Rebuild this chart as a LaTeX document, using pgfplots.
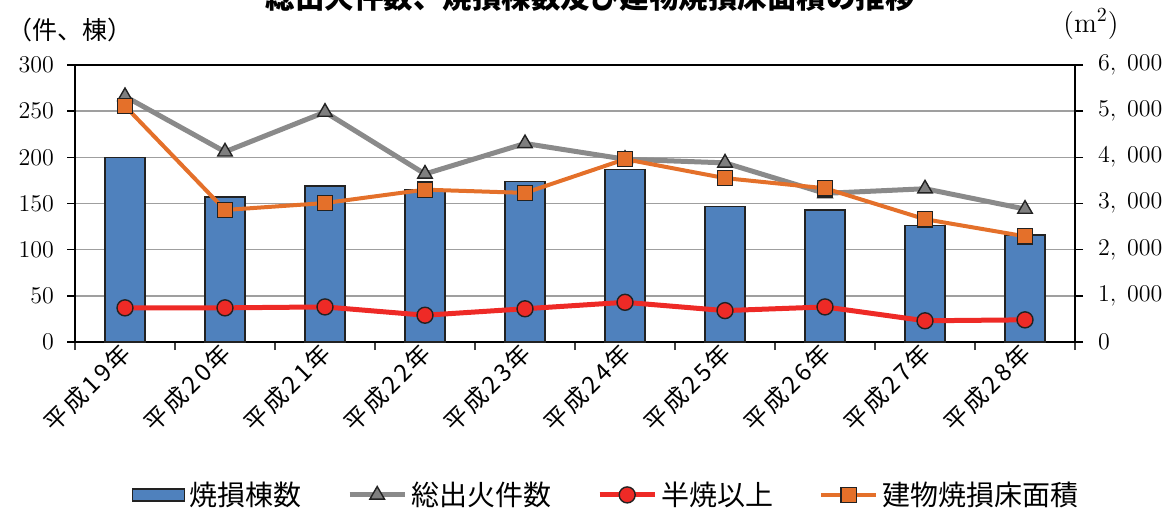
\documentclass[border=0pt]{standalone}
\usepackage{pgfplots}
\pgfplotsset{compat=1.18}
\usepackage{fontspec}
\newfontfamily\cjk{Noto Sans CJK JP}
\newfontfamily\cjkx[LetterSpace=12]{Noto Sans CJK JP}
\definecolor{barblue}{HTML}{4F81BD}
\definecolor{lgray}{HTML}{8A8A8A}
\definecolor{mgray}{HTML}{7F7F7F}
\definecolor{lred}{HTML}{EE2A26}
\definecolor{lorange}{HTML}{E4702A}
\definecolor{edge}{HTML}{222222}
\pgfplotsset{
  lineleg/.style={legend image code/.code={
    \draw[mark repeat=2,mark phase=2,##1] plot coordinates {(0pt,0pt)(13.75pt,0pt)(27.5pt,0pt)};}},
  barleg/.style={legend image code/.code={\draw[##1] (0pt,-3pt) rectangle (26pt,3pt);}}
}
\begin{document}
\begin{tikzpicture}
\begin{axis}[
  scale only axis, width=500pt, height=138.5pt,
  at={(37.5pt,84pt)}, anchor=south west,
  xmin=-0.5, xmax=9.5, ymin=0, ymax=300,
  ytick={0,50,...,300},
  xtick={0,...,9},
  xticklabels={平成19年,平成20年,平成21年,平成22年,平成23年,平成24年,平成25年,平成26年,平成27年,平成28年},
  minor xtick={-0.5,0.5,...,9.5},
  major x tick style={draw=none},
  minor x tick style={draw=black!75, line width=0.8pt},
  minor tick length=4pt,
  xtick pos=bottom, ytick pos=left,
  tick align=outside, major tick length=4pt,
  ytick style={black, line width=0.8pt},
  ymajorgrids, grid style={gray!75, line width=0.8pt},
  axis line style={black, line width=1pt},
  yticklabel style={font=\fontsize{12.5}{14}\selectfont, xshift=-3pt},
  xticklabel style={font=\cjkx\fontsize{12}{14}\selectfont, rotate=45, anchor=east, inner sep=1pt, xshift=2pt},
]
\addplot[ybar, bar width=20pt, fill=barblue, draw=edge, line width=0.7pt] coordinates {
(0,200) (1,157) (2,169) (3,165) (4,174) (5,187) (6,147) (7,143) (8,126) (9,116)};
\addplot[lgray, line width=2.5pt, mark=triangle*, mark size=4.2pt, mark options={fill=mgray, draw=edge, line width=0.7pt}] coordinates {
(0,266) (1,206) (2,249) (3,182) (4,215) (5,198) (6,194) (7,161) (8,166) (9,144)};
\addplot[lred, line width=2.5pt, mark=*, mark size=4pt, mark options={fill=lred, draw=edge, line width=0.7pt}] coordinates {
(0,37) (1,37) (2,38) (3,29) (4,36) (5,43) (6,34) (7,38) (8,23) (9,24)};
\end{axis}
\begin{axis}[
  scale only axis, width=500pt, height=138.5pt,
  at={(37.5pt,84pt)}, anchor=south west,
  xmin=-0.5, xmax=9.5, ymin=0, ymax=6000,
  axis x line=none, axis y line*=right,
  ytick={0,1000,...,6000},
  yticklabels={$0$,{$1,\;000$},{$2,\;000$},{$3,\;000$},{$4,\;000$},{$5,\;000$},{$6,\;000$}},
  tick align=outside, major tick length=4pt,
  ytick style={black, line width=0.8pt},
  axis line style={black, line width=1pt},
  yticklabel style={font=\fontsize{12.5}{14}\selectfont, xshift=4pt},
  legend columns=4,
  legend style={at={(0.532,-0.552)}, anchor=center, draw=none, fill=none,
    font=\cjk\fontsize{14}{16}\selectfont,
    /tikz/every even column/.append style={column sep=21pt}},
  legend cell align=left,
]
\addlegendimage{barleg, fill=barblue, draw=edge, line width=0.7pt}
\addlegendentry{焼損棟数}
\addlegendimage{lineleg, lgray, line width=2.5pt, mark=triangle*, mark size=4.2pt, mark options={fill=mgray, draw=edge, line width=0.7pt}}
\addlegendentry{総出火件数}
\addlegendimage{lineleg, lred, line width=2.5pt, mark=*, mark size=4pt, mark options={fill=lred, draw=edge, line width=0.7pt}}
\addlegendentry{半焼以上}
\addplot[lineleg, lorange, line width=2pt, mark=square*, mark size=3.8pt, mark options={fill=lorange, draw=edge, line width=0.7pt}] coordinates {
(0,5110) (1,2860) (2,3010) (3,3300) (4,3230) (5,3960) (6,3550) (7,3330) (8,2660) (9,2290)};
\addlegendentry{建物焼損床面積}
\end{axis}
\node[font=\cjk\fontsize{12.5}{14}\selectfont] at (35pt,240pt) {（件、棟）};
\node[font=\fontsize{14}{16}\selectfont] at (545.5pt,243pt) {(m$^{2}$)};
\node[font=\cjk\bfseries\fontsize{14.75}{17}\selectfont, anchor=base] at (295pt,250.75pt) {総出火件数、焼損棟数及び建物焼損床面積の推移};
\pgfresetboundingbox
\useasboundingbox (0,0) rectangle (588pt,255pt);
\end{tikzpicture}
\end{document}
